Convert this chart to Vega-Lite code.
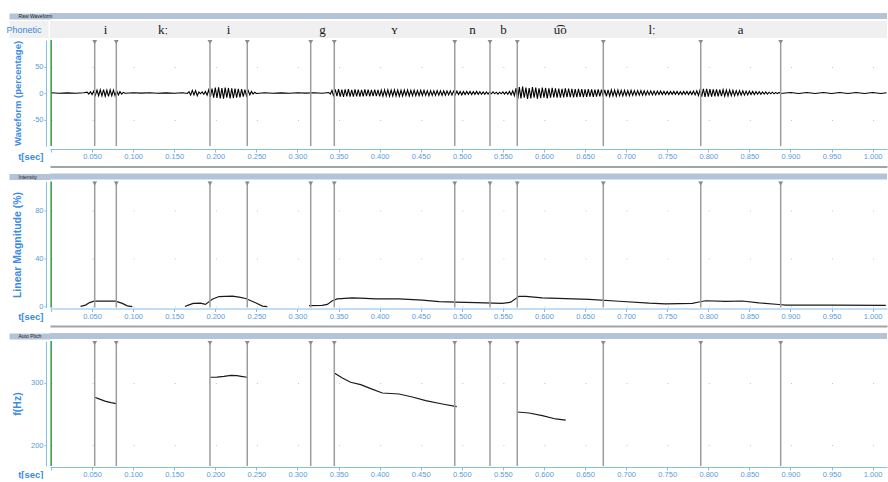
{
  "$schema": "https://vega.github.io/schema/vega-lite/v6.json",
  "background": "#ffffff",
  "padding": {"left": 0, "top": 13, "right": 0, "bottom": 0},
  "spacing": 5.5,
  "config": {
    "view": {"stroke": null},
    "axis": {
      "labelFont": "Liberation Sans, sans-serif",
      "labelFontSize": 7.5,
      "labelColor": "#5b9bd8",
      "titleFont": "Liberation Sans, sans-serif",
      "titleFontWeight": "bold",
      "titleColor": "#3b8ce3",
      "domainColor": "#86bdea",
      "tickColor": "#86bdea",
      "gridColor": "#c4c4c4"
    }
  },
  "datasets": {
    "bounds": [
      {"t": 0.0532}, {"t": 0.0795}, {"t": 0.1935}, {"t": 0.2389}, {"t": 0.3161}, {"t": 0.3448},
      {"t": 0.4914}, {"t": 0.5343}, {"t": 0.5675}, {"t": 0.6722}, {"t": 0.7908}, {"t": 0.8881}
    ],
    "cursor": [{"t": 0.0002}],
    "phones": [
      {"tier": "Phonetic", "label": "i", "mid": 0.0664},
      {"tier": "Phonetic", "label": "kː", "mid": 0.1365},
      {"tier": "Phonetic", "label": "i", "mid": 0.2162},
      {"tier": "Phonetic", "label": "g", "mid": 0.3305},
      {"tier": "Phonetic", "label": "ʏ", "mid": 0.4181},
      {"tier": "Phonetic", "label": "n", "mid": 0.5129},
      {"tier": "Phonetic", "label": "b", "mid": 0.5509},
      {"tier": "Phonetic", "label": "u͡o", "mid": 0.6199},
      {"tier": "Phonetic", "label": "lː", "mid": 0.7315},
      {"tier": "Phonetic", "label": "a", "mid": 0.8395}
    ],
    "intensity": [
      {"seg": 1, "t": 0.036, "v": 0.3}, {"seg": 1, "t": 0.042, "v": 1.4}, {"seg": 1, "t": 0.047, "v": 3.5}, {"seg": 1, "t": 0.0523, "v": 4.7}, {"seg": 1, "t": 0.065, "v": 4.8}, {"seg": 1, "t": 0.0787, "v": 4.7}, {"seg": 1, "t": 0.0868, "v": 2.8}, {"seg": 1, "t": 0.0929, "v": 0.8}, {"seg": 1, "t": 0.099, "v": 0.2},
      {"seg": 2, "t": 0.163, "v": 0.2}, {"seg": 2, "t": 0.168, "v": 1.6}, {"seg": 2, "t": 0.1732, "v": 2.8}, {"seg": 2, "t": 0.182, "v": 3.0}, {"seg": 2, "t": 0.188, "v": 2.0}, {"seg": 2, "t": 0.1963, "v": 6.3}, {"seg": 2, "t": 0.2045, "v": 8.5}, {"seg": 2, "t": 0.2207, "v": 8.8}, {"seg": 2, "t": 0.229, "v": 8.0}, {"seg": 2, "t": 0.237, "v": 6.9}, {"seg": 2, "t": 0.249, "v": 3.3}, {"seg": 2, "t": 0.2572, "v": 0.6}, {"seg": 2, "t": 0.2633, "v": 0.2},
      {"seg": 3, "t": 0.314, "v": 1.0}, {"seg": 3, "t": 0.33, "v": 1.2}, {"seg": 3, "t": 0.3363, "v": 2.0}, {"seg": 3, "t": 0.3424, "v": 5.0}, {"seg": 3, "t": 0.3485, "v": 6.5}, {"seg": 3, "t": 0.3667, "v": 7.4}, {"seg": 3, "t": 0.383, "v": 7.0}, {"seg": 3, "t": 0.395, "v": 6.6}, {"seg": 3, "t": 0.4236, "v": 6.6}, {"seg": 3, "t": 0.452, "v": 5.6}, {"seg": 3, "t": 0.4723, "v": 4.3}, {"seg": 3, "t": 0.4926, "v": 3.9}, {"seg": 3, "t": 0.517, "v": 3.4}, {"seg": 3, "t": 0.5493, "v": 2.9}, {"seg": 3, "t": 0.5595, "v": 3.8}, {"seg": 3, "t": 0.5696, "v": 8.7}, {"seg": 3, "t": 0.5778, "v": 8.6}, {"seg": 3, "t": 0.598, "v": 7.4}, {"seg": 3, "t": 0.6265, "v": 6.8}, {"seg": 3, "t": 0.6548, "v": 6.1}, {"seg": 3, "t": 0.6913, "v": 4.6}, {"seg": 3, "t": 0.728, "v": 3.0}, {"seg": 3, "t": 0.748, "v": 2.5}, {"seg": 3, "t": 0.7806, "v": 2.8}, {"seg": 3, "t": 0.7887, "v": 4.0}, {"seg": 3, "t": 0.7968, "v": 5.0}, {"seg": 3, "t": 0.8212, "v": 4.5}, {"seg": 3, "t": 0.8414, "v": 4.8}, {"seg": 3, "t": 0.8617, "v": 3.3}, {"seg": 3, "t": 0.886, "v": 1.9}, {"seg": 3, "t": 0.894, "v": 1.4}, {"seg": 3, "t": 0.951, "v": 1.4}, {"seg": 3, "t": 1.016, "v": 1.1}
    ],
    "pitch": [
      {"seg": 1, "t": 0.0532, "f": 276.6}, {"seg": 1, "t": 0.0584, "f": 274.0}, {"seg": 1, "t": 0.0657, "f": 270.5}, {"seg": 1, "t": 0.073, "f": 268.0}, {"seg": 1, "t": 0.0795, "f": 266.5},
      {"seg": 2, "t": 0.1935, "f": 308.5}, {"seg": 2, "t": 0.202, "f": 308.8}, {"seg": 2, "t": 0.2106, "f": 309.8}, {"seg": 2, "t": 0.219, "f": 311.6}, {"seg": 2, "t": 0.2264, "f": 311.0}, {"seg": 2, "t": 0.2313, "f": 310.0}, {"seg": 2, "t": 0.2386, "f": 308.5},
      {"seg": 3, "t": 0.3448, "f": 315.3}, {"seg": 3, "t": 0.3546, "f": 307.3}, {"seg": 3, "t": 0.3647, "f": 300.5}, {"seg": 3, "t": 0.377, "f": 296.8}, {"seg": 3, "t": 0.3891, "f": 290.4}, {"seg": 3, "t": 0.4033, "f": 283.4}, {"seg": 3, "t": 0.4236, "f": 281.8}, {"seg": 3, "t": 0.4398, "f": 277.0}, {"seg": 3, "t": 0.4561, "f": 271.3}, {"seg": 3, "t": 0.4763, "f": 265.9}, {"seg": 3, "t": 0.4938, "f": 261.7},
      {"seg": 4, "t": 0.5676, "f": 253.1}, {"seg": 4, "t": 0.5818, "f": 251.5}, {"seg": 4, "t": 0.598, "f": 247.3}, {"seg": 4, "t": 0.6143, "f": 242.0}, {"seg": 4, "t": 0.6265, "f": 240.0}
    ],
    "wave": [
      {"t": 0.0, "v": 0.4}, {"t": 0.01, "v": -0.4}, {"t": 0.02, "v": 0.3}, {"t": 0.03, "v": -0.4}, {"t": 0.04, "v": 0.5},
      {"t": 0.044, "v": 1.5}, {"t": 0.046, "v": -2}, {"t": 0.048, "v": 2.5}, {"t": 0.05, "v": -3}, {"t": 0.052, "v": 3.5}, {"t": 0.054, "v": -4.5}, {"t": 0.056, "v": 5.5}, {"t": 0.058, "v": -5}, {"t": 0.06, "v": 6}, {"t": 0.062, "v": -5.5}, {"t": 0.064, "v": 6.5}, {"t": 0.066, "v": -6}, {"t": 0.068, "v": 5.5}, {"t": 0.07, "v": -6.5}, {"t": 0.072, "v": 6}, {"t": 0.074, "v": -5}, {"t": 0.076, "v": 5.5}, {"t": 0.078, "v": -5}, {"t": 0.08, "v": 4}, {"t": 0.082, "v": -3.5}, {"t": 0.084, "v": 2.5}, {"t": 0.086, "v": -2}, {"t": 0.088, "v": 1.2}, {"t": 0.09, "v": -0.5},
      {"t": 0.1, "v": 0.4}, {"t": 0.11, "v": -0.3}, {"t": 0.12, "v": 0.4}, {"t": 0.13, "v": -0.4}, {"t": 0.14, "v": 0.3}, {"t": 0.15, "v": -0.4}, {"t": 0.16, "v": 0.5}, {"t": 0.166, "v": -0.8},
      {"t": 0.168, "v": 2.5}, {"t": 0.17, "v": -4}, {"t": 0.172, "v": 5}, {"t": 0.174, "v": -3.5}, {"t": 0.176, "v": 4.5}, {"t": 0.178, "v": -5}, {"t": 0.18, "v": 2}, {"t": 0.182, "v": -1.5}, {"t": 0.184, "v": 2}, {"t": 0.186, "v": -2.5}, {"t": 0.188, "v": 3}, {"t": 0.19, "v": -4}, {"t": 0.192, "v": 6}, {"t": 0.194, "v": -7.5}, {"t": 0.196, "v": 8.5}, {"t": 0.198, "v": -9}, {"t": 0.2, "v": 10}, {"t": 0.202, "v": -9.5}, {"t": 0.204, "v": 10.5}, {"t": 0.206, "v": -10}, {"t": 0.208, "v": 9.5}, {"t": 0.21, "v": -10.5}, {"t": 0.212, "v": 10}, {"t": 0.214, "v": -9}, {"t": 0.216, "v": 9.5}, {"t": 0.218, "v": -10}, {"t": 0.22, "v": 9}, {"t": 0.222, "v": -9.5}, {"t": 0.224, "v": 8.5}, {"t": 0.226, "v": -9}, {"t": 0.228, "v": 8}, {"t": 0.23, "v": -8.5}, {"t": 0.232, "v": 7.5}, {"t": 0.234, "v": -7}, {"t": 0.236, "v": 6.5}, {"t": 0.238, "v": -5.5}, {"t": 0.24, "v": 4.5}, {"t": 0.242, "v": -3.5}, {"t": 0.244, "v": 3}, {"t": 0.246, "v": -2}, {"t": 0.248, "v": 1.5}, {"t": 0.25, "v": -1},
      {"t": 0.26, "v": 0.4}, {"t": 0.27, "v": -0.4}, {"t": 0.28, "v": 0.3}, {"t": 0.29, "v": -0.4}, {"t": 0.3, "v": 0.4}, {"t": 0.31, "v": -0.3}, {"t": 0.32, "v": 0.5}, {"t": 0.33, "v": -0.6}, {"t": 0.338, "v": 1}, {"t": 0.34, "v": -2},
      {"t": 0.342, "v": 5}, {"t": 0.344, "v": -6.5}, {"t": 0.346, "v": 7}, {"t": 0.348, "v": -6}, {"t": 0.35, "v": 7.5}, {"t": 0.352, "v": -7}, {"t": 0.354, "v": 6.5}, {"t": 0.356, "v": -7.5}, {"t": 0.358, "v": 7}, {"t": 0.36, "v": -6.5}, {"t": 0.362, "v": 7.5}, {"t": 0.364, "v": -7}, {"t": 0.366, "v": 6}, {"t": 0.368, "v": -7}, {"t": 0.37, "v": 7}, {"t": 0.372, "v": -6.5}, {"t": 0.374, "v": 6.5}, {"t": 0.376, "v": -7}, {"t": 0.378, "v": 6}, {"t": 0.38, "v": -6.5}, {"t": 0.382, "v": 7}, {"t": 0.384, "v": -6}, {"t": 0.386, "v": 6.5}, {"t": 0.388, "v": -6.5}, {"t": 0.39, "v": 6}, {"t": 0.392, "v": -6}, {"t": 0.394, "v": 6.5}, {"t": 0.396, "v": -6}, {"t": 0.398, "v": 6}, {"t": 0.4, "v": -6.5}, {"t": 0.402, "v": 5.5}, {"t": 0.404, "v": -6}, {"t": 0.406, "v": 6}, {"t": 0.408, "v": -5.5}, {"t": 0.41, "v": 6}, {"t": 0.412, "v": -6}, {"t": 0.414, "v": 5.5}, {"t": 0.416, "v": -5.5}, {"t": 0.418, "v": 6}, {"t": 0.42, "v": -5.5}, {"t": 0.422, "v": 5.5}, {"t": 0.424, "v": -6}, {"t": 0.426, "v": 5}, {"t": 0.428, "v": -5.5}, {"t": 0.43, "v": 5.5}, {"t": 0.432, "v": -5}, {"t": 0.434, "v": 5.5}, {"t": 0.436, "v": -5.5}, {"t": 0.438, "v": 5}, {"t": 0.44, "v": -5}, {"t": 0.442, "v": 5.5}, {"t": 0.444, "v": -5}, {"t": 0.446, "v": 4.5}, {"t": 0.448, "v": -5}, {"t": 0.45, "v": 5}, {"t": 0.452, "v": -4.5}, {"t": 0.454, "v": 5}, {"t": 0.456, "v": -4.5}, {"t": 0.458, "v": 4.5}, {"t": 0.46, "v": -5}, {"t": 0.462, "v": 4.5}, {"t": 0.464, "v": -4.5}, {"t": 0.466, "v": 4}, {"t": 0.468, "v": -4.5}, {"t": 0.47, "v": 4.5}, {"t": 0.472, "v": -4}, {"t": 0.474, "v": 4}, {"t": 0.476, "v": -4.5}, {"t": 0.478, "v": 4}, {"t": 0.48, "v": -4}, {"t": 0.482, "v": 4}, {"t": 0.484, "v": -3.5}, {"t": 0.486, "v": 4}, {"t": 0.488, "v": -4}, {"t": 0.49, "v": 3.5}, {"t": 0.492, "v": -3.5},
      {"t": 0.494, "v": 3.5}, {"t": 0.496, "v": -3}, {"t": 0.498, "v": 3}, {"t": 0.5, "v": -3.5}, {"t": 0.502, "v": 3}, {"t": 0.504, "v": -3}, {"t": 0.506, "v": 3}, {"t": 0.508, "v": -2.5}, {"t": 0.51, "v": 3}, {"t": 0.512, "v": -3}, {"t": 0.514, "v": 2.5}, {"t": 0.516, "v": -2.5}, {"t": 0.518, "v": 3}, {"t": 0.52, "v": -2.5}, {"t": 0.522, "v": 2.5}, {"t": 0.524, "v": -2.5}, {"t": 0.526, "v": 2}, {"t": 0.528, "v": -2.5}, {"t": 0.53, "v": 2}, {"t": 0.532, "v": -2}, {"t": 0.534, "v": 2}, {"t": 0.536, "v": -1.5}, {"t": 0.538, "v": 2}, {"t": 0.54, "v": -1.5}, {"t": 0.542, "v": 1.5}, {"t": 0.544, "v": -2}, {"t": 0.546, "v": 1.5}, {"t": 0.548, "v": -1.5}, {"t": 0.55, "v": 2}, {"t": 0.552, "v": -2}, {"t": 0.554, "v": 2}, {"t": 0.556, "v": -2.5}, {"t": 0.558, "v": 3}, {"t": 0.56, "v": -3.5}, {"t": 0.562, "v": 4}, {"t": 0.564, "v": -5},
      {"t": 0.566, "v": 9}, {"t": 0.568, "v": -12}, {"t": 0.57, "v": 11}, {"t": 0.572, "v": -10}, {"t": 0.574, "v": 12}, {"t": 0.576, "v": -9}, {"t": 0.578, "v": 10}, {"t": 0.58, "v": -11}, {"t": 0.582, "v": 9.5}, {"t": 0.584, "v": -10}, {"t": 0.586, "v": 11}, {"t": 0.588, "v": -9}, {"t": 0.59, "v": 10}, {"t": 0.592, "v": -10.5}, {"t": 0.594, "v": 9}, {"t": 0.596, "v": -9.5}, {"t": 0.598, "v": 10}, {"t": 0.6, "v": -9}, {"t": 0.602, "v": 9.5}, {"t": 0.604, "v": -10}, {"t": 0.606, "v": 9}, {"t": 0.608, "v": -9}, {"t": 0.61, "v": 9.5}, {"t": 0.612, "v": -8.5}, {"t": 0.614, "v": 9}, {"t": 0.616, "v": -9}, {"t": 0.618, "v": 8.5}, {"t": 0.62, "v": -9}, {"t": 0.622, "v": 8}, {"t": 0.624, "v": -8.5}, {"t": 0.626, "v": 9}, {"t": 0.628, "v": -8}, {"t": 0.63, "v": 8.5}, {"t": 0.632, "v": -8}, {"t": 0.634, "v": 8}, {"t": 0.636, "v": -8.5}, {"t": 0.638, "v": 7.5}, {"t": 0.64, "v": -8}, {"t": 0.642, "v": 8}, {"t": 0.644, "v": -7.5}, {"t": 0.646, "v": 7.5}, {"t": 0.648, "v": -8}, {"t": 0.65, "v": 7}, {"t": 0.652, "v": -7.5}, {"t": 0.654, "v": 7.5}, {"t": 0.656, "v": -7}, {"t": 0.658, "v": 7}, {"t": 0.66, "v": -7.5}, {"t": 0.662, "v": 6.5}, {"t": 0.664, "v": -7}, {"t": 0.666, "v": 7}, {"t": 0.668, "v": -6.5}, {"t": 0.67, "v": 6.5}, {"t": 0.672, "v": -6.5}, {"t": 0.674, "v": 6}, {"t": 0.676, "v": -6.5}, {"t": 0.678, "v": 6}, {"t": 0.68, "v": -6}, {"t": 0.682, "v": 6}, {"t": 0.684, "v": -5.5}, {"t": 0.686, "v": 5.5}, {"t": 0.688, "v": -6},
      {"t": 0.69, "v": 5.5}, {"t": 0.692, "v": -5}, {"t": 0.694, "v": 5}, {"t": 0.696, "v": -5.5}, {"t": 0.698, "v": 5}, {"t": 0.7, "v": -5}, {"t": 0.702, "v": 4.5}, {"t": 0.704, "v": -5}, {"t": 0.706, "v": 5}, {"t": 0.708, "v": -4.5}, {"t": 0.71, "v": 4.5}, {"t": 0.712, "v": -4.5}, {"t": 0.714, "v": 4.5}, {"t": 0.716, "v": -4}, {"t": 0.718, "v": 4.5}, {"t": 0.72, "v": -4}, {"t": 0.722, "v": 4}, {"t": 0.724, "v": -4}, {"t": 0.726, "v": 4}, {"t": 0.728, "v": -3.5}, {"t": 0.73, "v": 4}, {"t": 0.732, "v": -3.5}, {"t": 0.734, "v": 3.5}, {"t": 0.736, "v": -3.5}, {"t": 0.738, "v": 3.5}, {"t": 0.74, "v": -3}, {"t": 0.742, "v": 3.5}, {"t": 0.744, "v": -3}, {"t": 0.746, "v": 3}, {"t": 0.748, "v": -3}, {"t": 0.75, "v": 3}, {"t": 0.752, "v": -3}, {"t": 0.754, "v": 3}, {"t": 0.756, "v": -2.5}, {"t": 0.758, "v": 3}, {"t": 0.76, "v": -2.5}, {"t": 0.762, "v": 3}, {"t": 0.764, "v": -3}, {"t": 0.766, "v": 2.5}, {"t": 0.768, "v": -3}, {"t": 0.77, "v": 3}, {"t": 0.772, "v": -2.5}, {"t": 0.774, "v": 3}, {"t": 0.776, "v": -3}, {"t": 0.778, "v": 3}, {"t": 0.78, "v": -3}, {"t": 0.782, "v": 3.5}, {"t": 0.784, "v": -3.5}, {"t": 0.786, "v": 4}, {"t": 0.788, "v": -4.5},
      {"t": 0.79, "v": 6}, {"t": 0.792, "v": -7}, {"t": 0.794, "v": 8}, {"t": 0.796, "v": -7.5}, {"t": 0.798, "v": 8}, {"t": 0.8, "v": -7}, {"t": 0.802, "v": 7.5}, {"t": 0.804, "v": -7}, {"t": 0.806, "v": 7}, {"t": 0.808, "v": -6.5}, {"t": 0.81, "v": 7}, {"t": 0.812, "v": -6.5}, {"t": 0.814, "v": 6.5}, {"t": 0.816, "v": -6}, {"t": 0.818, "v": 6}, {"t": 0.82, "v": -6}, {"t": 0.822, "v": 5.5}, {"t": 0.824, "v": -5.5}, {"t": 0.826, "v": 5.5}, {"t": 0.828, "v": -5}, {"t": 0.83, "v": 5}, {"t": 0.832, "v": -5}, {"t": 0.834, "v": 4.5}, {"t": 0.836, "v": -4.5}, {"t": 0.838, "v": 4.5}, {"t": 0.84, "v": -4}, {"t": 0.842, "v": 4}, {"t": 0.844, "v": -4}, {"t": 0.846, "v": 3.5}, {"t": 0.848, "v": -3.5}, {"t": 0.85, "v": 3.5}, {"t": 0.852, "v": -3}, {"t": 0.854, "v": 3}, {"t": 0.856, "v": -3}, {"t": 0.858, "v": 2.5}, {"t": 0.86, "v": -2.5}, {"t": 0.862, "v": 2.5}, {"t": 0.864, "v": -2.5}, {"t": 0.866, "v": 2}, {"t": 0.868, "v": -2}, {"t": 0.87, "v": 2}, {"t": 0.872, "v": -2}, {"t": 0.874, "v": 1.5}, {"t": 0.876, "v": -1.5}, {"t": 0.878, "v": 1.5}, {"t": 0.88, "v": -1.5}, {"t": 0.882, "v": 1.2}, {"t": 0.884, "v": -1.2}, {"t": 0.886, "v": 1}, {"t": 0.888, "v": -1},
      {"t": 0.9, "v": 0.8}, {"t": 0.91, "v": -0.8}, {"t": 0.92, "v": 1}, {"t": 0.93, "v": -0.8}, {"t": 0.94, "v": 0.8}, {"t": 0.95, "v": -1}, {"t": 0.96, "v": 0.8}, {"t": 0.97, "v": -0.8}, {"t": 0.98, "v": 1}, {"t": 0.99, "v": -0.8}, {"t": 1.0, "v": 0.8}, {"t": 1.01, "v": -0.8}, {"t": 1.017, "v": 0.5}
    ]
  },
  "vconcat": [
    {
      "spacing": 1,
      "vconcat": [
        {
          "width": 837, "height": 6,
          "data": {"values": [{"panel": "Raw Waveform"}]},
          "mark": {"type": "rect", "color": "#b4c4d8"},
          "encoding": {
            "y": {"field": "panel", "type": "nominal", "title": null,
              "axis": {"domain": false, "ticks": true, "tickSize": 41, "tickWidth": 6, "tickColor": "#b4c4d8", "labelFontSize": 5, "labelColor": "#222222", "labelAlign": "left", "labelPadding": -9, "labelBaseline": "middle", "offset": 0, "grid": false}}
          }
        },
        {
          "width": 837, "height": 17,
          "data": {"name": "phones"},
          "layer": [
            {
              "mark": {"type": "rect", "color": "#f0f0f0"},
              "encoding": {
                "y": {"field": "tier", "type": "nominal", "title": null,
                  "axis": {"domain": false, "ticks": true, "tickSize": 39, "tickWidth": 17, "tickColor": "#f0f0f0", "labelFontSize": 9, "labelColor": "#3d86d6", "labelPadding": -32, "labelBaseline": "middle", "offset": 2, "grid": false}}
              }
            },
            {
              "mark": {"type": "text", "font": "Liberation Serif, DejaVu Serif, serif", "fontSize": 13, "color": "#1a1a1a", "baseline": "middle"},
              "encoding": {
                "x": {"field": "mid", "type": "quantitative", "scale": {"domain": [-0.0012, 1.0175], "nice": false, "zero": false}, "axis": null},
                "y": {"field": "tier", "type": "nominal"},
                "text": {"field": "label"}
              }
            }
          ]
        },
        {
          "width": 837, "height": 106,
          "layer": [
            {
              "data": {"name": "wave"},
              "mark": {"type": "line", "color": "#000000", "strokeWidth": 1.1},
              "encoding": {
                "x": {"field": "t", "type": "quantitative", "scale": {"domain": [-0.0012, 1.0175], "nice": false, "zero": false},
                  "axis": {"title": "t[sec]", "titleFontSize": 9.5, "titleAlign": "right", "titleBaseline": "middle", "titleX": -7, "titleY": 7.5, "titleAngle": 0, "offset": 3, "tickSize": 3, "labelPadding": 0.5, "labelFlush": false, "labelOverlap": false, "labelDx": 2, "grid": false,
                    "values": [0,0.025,0.05,0.075,0.1,0.125,0.15,0.175,0.2,0.225,0.25,0.275,0.3,0.325,0.35,0.375,0.4,0.425,0.45,0.475,0.5,0.525,0.55,0.575,0.6,0.625,0.65,0.675,0.7,0.725,0.75,0.775,0.8,0.825,0.85,0.875,0.9,0.925,0.95,0.975,1.0],
                    "labelExpr": "(datum.value > 0.001 && abs(datum.value * 20 - round(datum.value * 20)) < 0.001) ? format(datum.value, '.3f') : ''"}},
                "y": {"field": "v", "type": "quantitative", "scale": {"domain": [-100, 100], "nice": false, "zero": false},
                  "axis": {"title": "Waveform (percentage)", "titleFontSize": 9.5, "titlePadding": 4, "offset": 4, "tickSize": 2, "labelPadding": 1, "minExtent": 20, "maxExtent": 20, "values": [-50, 0, 50],
                    "labelExpr": "datum.value < 0 ? '-' + abs(datum.value) : '' + datum.value",
                    "grid": true, "gridDash": [1, 40.08], "gridDashOffset": 40.08, "gridWidth": 1.2}}
              }
            },
            {
              "data": {"name": "cursor"},
              "mark": {"type": "rule", "color": "#2e9a3c", "strokeWidth": 1.5},
              "encoding": {"x": {"field": "t", "type": "quantitative"}}
            },
            {
              "data": {"name": "bounds"},
              "mark": {"type": "rule", "color": "#9c9c9c", "strokeWidth": 1.5},
              "encoding": {"x": {"field": "t", "type": "quantitative"}}
            },
            {
              "data": {"name": "bounds"},
              "mark": {"type": "point", "shape": "triangle-down", "filled": true, "color": "#8c8c8c", "size": 24, "opacity": 1, "yOffset": 2},
              "encoding": {"x": {"field": "t", "type": "quantitative"}, "y": {"datum": 100, "type": "quantitative"}}
            }
          ]
        }
      ]
    },
    {
      "spacing": 1,
      "vconcat": [
        {
          "width": 837, "height": 6,
          "data": {"values": [{"panel": "Intensity"}]},
          "layer": [
            {
              "mark": {"type": "rect", "color": "#b4c4d8"},
              "encoding": {
                "y": {"field": "panel", "type": "nominal", "title": null,
                  "axis": {"domain": false, "ticks": true, "tickSize": 41, "tickWidth": 6, "tickColor": "#b4c4d8", "labelFontSize": 5, "labelColor": "#222222", "labelAlign": "left", "labelPadding": -9, "labelBaseline": "middle", "offset": 0, "grid": false}}
              }
            },
            {
              "mark": {"type": "rule", "opacity": 0},
              "encoding": {"x": {"datum": 0.5, "type": "quantitative", "scale": {"domain": [0, 1]},
                "axis": {"orient": "top", "offset": 7, "domainColor": "#a3a3a3", "domainWidth": 2, "ticks": false, "labels": false, "title": null, "grid": false}}}
            }
          ]
        },
        {
          "width": 837, "height": 126,
          "layer": [
            {
              "data": {"name": "intensity"},
              "mark": {"type": "line", "color": "#1a1a1a", "strokeWidth": 1.2},
              "encoding": {
                "x": {"field": "t", "type": "quantitative", "scale": {"domain": [-0.0012, 1.0175], "nice": false, "zero": false},
                  "axis": {"title": "t[sec]", "titleFontSize": 9.5, "titleAlign": "right", "titleBaseline": "middle", "titleX": -7, "titleY": 7.5, "titleAngle": 0, "offset": 1, "tickSize": 3, "labelPadding": 0.5, "labelFlush": false, "labelOverlap": false, "labelDx": 2, "grid": false,
                    "values": [0,0.025,0.05,0.075,0.1,0.125,0.15,0.175,0.2,0.225,0.25,0.275,0.3,0.325,0.35,0.375,0.4,0.425,0.45,0.475,0.5,0.525,0.55,0.575,0.6,0.625,0.65,0.675,0.7,0.725,0.75,0.775,0.8,0.825,0.85,0.875,0.9,0.925,0.95,0.975,1.0],
                    "labelExpr": "(datum.value > 0.001 && abs(datum.value * 20 - round(datum.value * 20)) < 0.001) ? format(datum.value, '.3f') : ''"}},
                "y": {"field": "v", "type": "quantitative", "scale": {"domain": [-0.58, 103.7], "nice": false, "zero": false},
                  "axis": {"title": "Linear Magnitude (%)", "titleFontSize": 10.5, "titlePadding": 4, "offset": 4, "tickSize": 2, "labelPadding": 1, "minExtent": 20, "maxExtent": 20, "values": [0, 20, 40, 60, 80],
                    "grid": true, "gridDash": [1, 40.08], "gridDashOffset": 40.08, "gridWidth": 1.2}},
                "detail": {"field": "seg", "type": "nominal"}
              }
            },
            {
              "data": {"name": "cursor"},
              "mark": {"type": "rule", "color": "#2e9a3c", "strokeWidth": 1.5},
              "encoding": {"x": {"field": "t", "type": "quantitative"}}
            },
            {
              "data": {"name": "bounds"},
              "mark": {"type": "rule", "color": "#9c9c9c", "strokeWidth": 1.5},
              "encoding": {"x": {"field": "t", "type": "quantitative"}}
            },
            {
              "data": {"name": "bounds"},
              "mark": {"type": "point", "shape": "triangle-down", "filled": true, "color": "#8c8c8c", "size": 24, "opacity": 1, "yOffset": 2},
              "encoding": {"x": {"field": "t", "type": "quantitative"}, "y": {"datum": 103.7, "type": "quantitative"}}
            }
          ]
        }
      ]
    },
    {
      "spacing": 1,
      "vconcat": [
        {
          "width": 837, "height": 6,
          "data": {"values": [{"panel": "Auto Pitch"}]},
          "layer": [
            {
              "mark": {"type": "rect", "color": "#b4c4d8"},
              "encoding": {
                "y": {"field": "panel", "type": "nominal", "title": null,
                  "axis": {"domain": false, "ticks": true, "tickSize": 41, "tickWidth": 6, "tickColor": "#b4c4d8", "labelFontSize": 5, "labelColor": "#222222", "labelAlign": "left", "labelPadding": -9, "labelBaseline": "middle", "offset": 0, "grid": false}}
              }
            },
            {
              "mark": {"type": "rule", "opacity": 0},
              "encoding": {"x": {"datum": 0.5, "type": "quantitative", "scale": {"domain": [0, 1]},
                "axis": {"orient": "top", "offset": 7, "domainColor": "#a3a3a3", "domainWidth": 2, "ticks": false, "labels": false, "title": null, "grid": false}}}
            }
          ]
        },
        {
          "width": 837, "height": 125,
          "layer": [
            {
              "data": {"name": "pitch"},
              "mark": {"type": "line", "color": "#1a1a1a", "strokeWidth": 1.2},
              "encoding": {
                "x": {"field": "t", "type": "quantitative", "scale": {"domain": [-0.0012, 1.0175], "nice": false, "zero": false},
                  "axis": {"title": "t[sec]", "titleFontSize": 9.5, "titleAlign": "right", "titleBaseline": "middle", "titleX": -7, "titleY": 7.5, "titleAngle": 0, "offset": 1, "tickSize": 3, "labelPadding": 0.5, "labelFlush": false, "labelOverlap": false, "labelDx": 2, "grid": false,
                    "values": [0,0.025,0.05,0.075,0.1,0.125,0.15,0.175,0.2,0.225,0.25,0.275,0.3,0.325,0.35,0.375,0.4,0.425,0.45,0.475,0.5,0.525,0.55,0.575,0.6,0.625,0.65,0.675,0.7,0.725,0.75,0.775,0.8,0.825,0.85,0.875,0.9,0.925,0.95,0.975,1.0],
                    "labelExpr": "(datum.value > 0.001 && abs(datum.value * 20 - round(datum.value * 20)) < 0.001) ? format(datum.value, '.3f') : ''"}},
                "y": {"field": "f", "type": "quantitative", "scale": {"domain": [167, 366.3], "nice": false, "zero": false},
                  "axis": {"title": "f(Hz)", "titleFontSize": 10.5, "titlePadding": 4, "offset": 4, "tickSize": 2, "labelPadding": 1, "minExtent": 20, "maxExtent": 20, "values": [200, 300],
                    "grid": true, "gridDash": [1, 40.08], "gridDashOffset": 40.08, "gridWidth": 1.2}},
                "detail": {"field": "seg", "type": "nominal"}
              }
            },
            {
              "data": {"name": "cursor"},
              "mark": {"type": "rule", "color": "#2e9a3c", "strokeWidth": 1.5},
              "encoding": {"x": {"field": "t", "type": "quantitative"}}
            },
            {
              "data": {"name": "bounds"},
              "mark": {"type": "rule", "color": "#9c9c9c", "strokeWidth": 1.5},
              "encoding": {"x": {"field": "t", "type": "quantitative"}}
            },
            {
              "data": {"name": "bounds"},
              "mark": {"type": "point", "shape": "triangle-down", "filled": true, "color": "#8c8c8c", "size": 24, "opacity": 1, "yOffset": 2},
              "encoding": {"x": {"field": "t", "type": "quantitative"}, "y": {"datum": 366.3, "type": "quantitative"}}
            }
          ]
        }
      ]
    }
  ]
}
